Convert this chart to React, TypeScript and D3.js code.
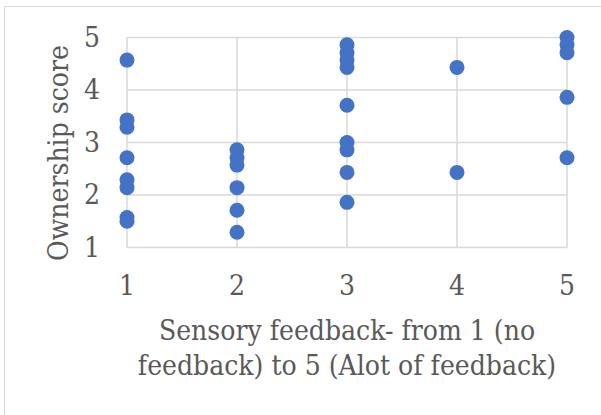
import { useRef, useEffect } from "react";
import * as d3 from "d3";

// sensory feedback level (x) and ownership score (y) per participant
const feedbackLevels = [1, 2, 3, 4, 5];
const pointsX = [
  1, 1, 1, 1, 1, 1, 1, 1,
  2, 2, 2, 2, 2, 2,
  3, 3, 3, 3, 3, 3, 3, 3, 3,
  4, 4,
  5, 5, 5, 5, 5,
];
const pointsY = [
  4.57, 3.43, 3.29, 2.71, 2.29, 2.14, 1.57, 1.5,
  2.86, 2.71, 2.57, 2.14, 1.71, 1.29,
  4.86, 4.71, 4.57, 4.43, 3.71, 3.0, 2.86, 2.43, 1.86,
  4.43, 2.43,
  5.0, 4.86, 4.71, 3.86, 2.71,
];
const scoreTicks = [1, 2, 3, 4, 5];
const yTitle = "Ownership score";
const xTitleLines = ["Sensory feedback- from 1 (no", "feedback) to 5 (Alot of feedback)"];

const W = 601;
const H = 415;

export default function App() {
  const svgRef = useRef<SVGSVGElement>(null);

  useEffect(() => {
    if (!svgRef.current) return;
    const svg = d3.select(svgRef.current);
    svg.selectAll("*").remove();

    const font = "DejaVu Serif Condensed, DejaVu Serif, serif";
    const textColor = "#595959";
    const gridColor = "#d9d9d9";

    const x = d3.scaleLinear().domain([1, 5]).range([127, 567]);
    const y = d3.scaleLinear().domain([1, 5]).range([247.5, 37.5]);

    svg.append("rect").attr("width", W).attr("height", H).attr("fill", "#fff");
    // chart frame, runs off the right and bottom edges
    svg.append("rect")
      .attr("x", 4.5).attr("y", 6.5)
      .attr("width", 640).attr("height", 440)
      .attr("fill", "none").attr("stroke", gridColor).attr("stroke-width", 1);

    const g = svg.append("g").style("font-family", font).attr("font-size", 28).attr("fill", textColor);

    // Gridlines
    g.selectAll("line.h")
      .data(scoreTicks)
      .join("line")
      .attr("class", "h")
      .attr("x1", x(1)).attr("x2", x(5))
      .attr("y1", (d) => y(d)).attr("y2", (d) => y(d))
      .attr("stroke", gridColor).attr("stroke-width", 1.5);
    g.selectAll("line.v")
      .data(feedbackLevels)
      .join("line")
      .attr("class", "v")
      .attr("x1", (d) => x(d)).attr("x2", (d) => x(d))
      .attr("y1", y(5)).attr("y2", y(1))
      .attr("stroke", gridColor).attr("stroke-width", 1.5);

    // Tick labels
    g.selectAll("text.yt")
      .data(scoreTicks)
      .join("text")
      .attr("class", "yt")
      .attr("x", 100)
      .attr("y", (d) => y(d) + 9)
      .attr("text-anchor", "end")
      .text((d) => d);
    g.selectAll("text.xt")
      .data(feedbackLevels)
      .join("text")
      .attr("class", "xt")
      .attr("x", (d) => x(d))
      .attr("y", 295)
      .attr("text-anchor", "middle")
      .text((d) => d);

    // Points
    g.selectAll("circle")
      .data(pointsX.map((px, i) => [px, pointsY[i]]))
      .join("circle")
      .attr("cx", (d) => x(d[0]))
      .attr("cy", (d) => y(d[1]))
      .attr("r", 7.5)
      .attr("fill", "#4472c4");

    // Axis titles
    g.append("text")
      .attr("transform", `translate(68,153) rotate(-90)`)
      .attr("text-anchor", "middle")
      .text(yTitle);
    g.selectAll("text.xtitle")
      .data(xTitleLines)
      .join("text")
      .attr("class", "xtitle")
      .attr("x", (x(1) + x(5)) / 2)
      .attr("y", (_d, i) => 340 + i * 35)
      .attr("text-anchor", "middle")
      .text((d) => d);
  }, []);

  return (
    <svg
      ref={svgRef}
      width={W}
      height={H}
      style={{ position: "absolute", left: 0, top: 0, display: "block" }}
    />
  );
}
